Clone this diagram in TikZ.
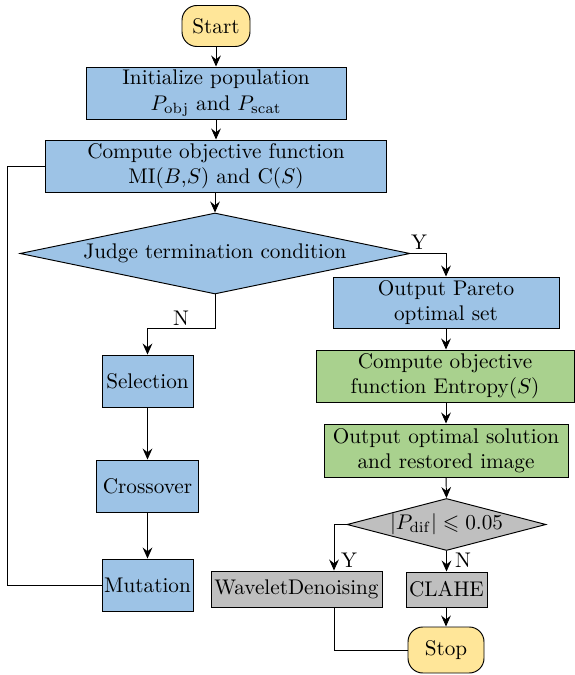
\documentclass[tikz,border=0pt]{standalone}
\usepackage{amsmath,amssymb}
\usetikzlibrary{shapes.geometric,arrows.meta,calc}
\definecolor{bl}{HTML}{9DC3E6}
\definecolor{gr}{HTML}{A9D18E}
\definecolor{gy}{HTML}{BFBFBF}
\definecolor{yl}{HTML}{FFE699}
\begin{document}
\begin{tikzpicture}[x=0.4717pt,y=-0.4717pt,line width=0.45pt,
  bx/.style 2 args={draw, rectangle, minimum width=#1*0.4717pt, minimum height=#2*0.4717pt, inner sep=0pt, align=center},
  term/.style 2 args={bx={#1}{#2}, rounded corners=7pt, fill=yl},
  dia/.style 2 args={draw, diamond, minimum width=#1*0.4717pt, minimum height=#2*0.4717pt, inner sep=0pt},
  arr/.style={-{Stealth[length=5.2pt,width=4.6pt,inset=1.8pt]}},
  lab/.style={inner sep=0pt}]
\useasboundingbox (0,0) rectangle (574,675);
% nodes
\node[term={68}{41}] (start) at (216,26) {Start};
\node[bx={260}{52}, fill=bl] (init) at (216,93) {Initialize population\\$P_{\mathrm{obj}}$ and $P_{\mathrm{scat}}$};
\node[bx={341}{52}, fill=bl] (comp) at (216,166) {Compute objective function\\MI($B$,$S$) and C($S$)};
\node[dia={390}{81}, fill=bl, label={center:Judge termination condition}] (judge) at (215,253.5) {};
\node[bx={91}{52}, fill=bl] (sel) at (147.5,381) {Selection};
\node[bx={102}{52}, fill=bl] (cross) at (147.5,486) {Crossover};
\node[bx={91}{52}, fill=bl] (mut) at (147.5,585) {Mutation};
\node[bx={226}{51}, fill=bl] (pareto) at (446,302.5) {Output Pareto\\optimal set};
\node[bx={258}{52}, fill=gr] (ent) at (445,376) {Compute objective\\function Entropy($S$)};
\node[bx={244}{53}, fill=gr] (opt) at (446,450.5) {Output optimal solution\\and restored image};
\node[dia={199}{52}, fill=gy, label={center:$|P_{\mathrm{dif}}|\leqslant 0.05$}] (d2) at (446.5,524.5) {};
\node[bx={171}{36}, fill=gy] (wave) at (296.5,589) {WaveletDenoising};
\node[bx={81}{35}, fill=gy] (clahe) at (446.5,589.5) {CLAHE};
\node[term={76}{46}] (stop) at (446,650) {Stop};
\coordinate (wy) at (334,0);
\coordinate (loopx) at (7,0);
% labels
\node[lab] (ly) at (419,242) {Y};
\node[lab] (ln) at (181,318) {N};
\node[lab] (ly2) at (349,560) {Y};
\node[lab] (ln2) at (463,560) {N};
% connectors
\draw[arr] (start) -- (init);
\draw[arr] (init) -- (comp);
\draw[arr] (comp.south -| judge.north) -- (judge.north);
\draw[arr] (judge.south) -- ++(0,34) -| (sel.north);
\draw[arr] (judge.east) -| (pareto.north);
\draw[arr] (sel) -- (cross);
\draw[arr] (cross) -- (mut);
\draw (mut.west) -| (loopx |- comp.west) -- (comp.west);
\draw[arr] (pareto.south) -- (pareto.south |- ent.north);
\draw[arr] (ent.south -| opt.north) -- (opt.north);
\draw[arr] (opt.south) -- (d2.north);
\draw[arr] (d2.west) -| (wy |- wave.north);
\draw[arr] (d2.south) -- (clahe.north);
\draw[arr] (clahe.south -| stop.north) -- (stop.north);
\draw (wy |- wave.south) |- (stop.west);
\end{tikzpicture}
\end{document}
